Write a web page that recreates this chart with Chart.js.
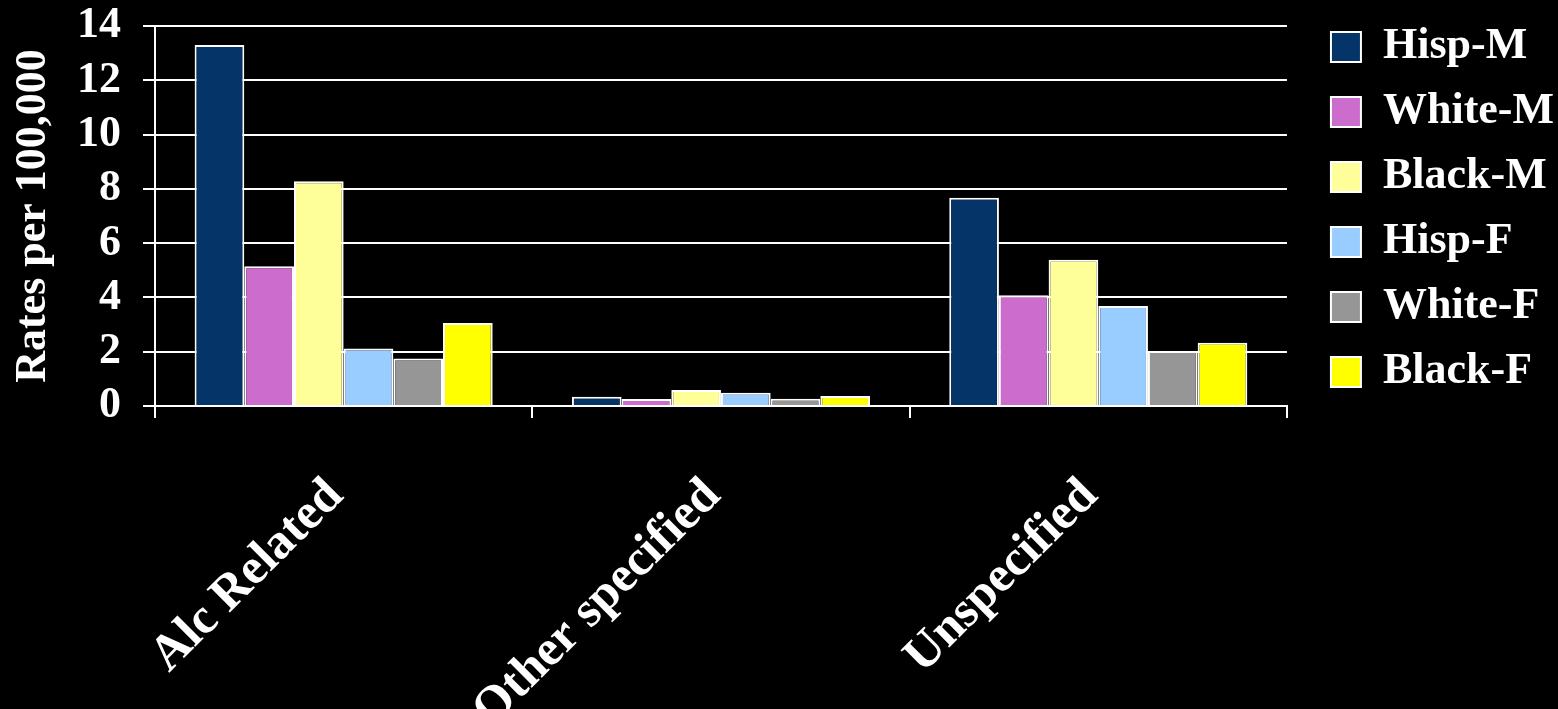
<!DOCTYPE html>
<html>
<head>
<meta charset="utf-8">
<script src="https://cdn.jsdelivr.net/npm/chart.js@4/dist/chart.umd.min.js"></script>
<style>
  html, body { margin: 0; padding: 0; background: #000; }
  #wrap { width: 1558px; height: 709px; }
</style>
</head>
<body>
<div id="wrap"><canvas id="rateChart"></canvas></div>
<script>
const categories = ['Alc Related', 'Other specified', 'Unspecified'];

const hispM  = [13.3, 0.34, 7.67];
const whiteM = [5.15, 0.26, 4.08];
const blackM = [8.28, 0.59, 5.39];
const hispF  = [2.12, 0.49, 3.68];
const whiteF = [1.75, 0.27, 2.03];
const blackF = [3.06, 0.37, 2.33];

const yTicks = [0, 2, 4, 6, 8, 10, 12, 14];

const serif = "'Liberation Serif', 'Times New Roman', serif";

function series(label, data, color) {
    return {
        label: label,
        data: data,
        backgroundColor: color,
        borderColor: '#ffffff',
        borderWidth: 2,
        categoryPercentage: 0.79,
        barPercentage: 1.0
    };
}

const ctx = document.getElementById('rateChart').getContext('2d');
const rateChart = new Chart(ctx, {
    type: 'bar',
    data: {
        labels: categories,
        datasets: [
            series('Hisp-M', hispM, '#043468'),
            series('White-M', whiteM, '#cc6ccc'),
            series('Black-M', blackM, '#ffff99'),
            series('Hisp-F', hispF, '#99ccff'),
            series('White-F', whiteF, '#969696'),
            series('Black-F', blackF, '#ffff00')
        ]
    },
    options: {
        responsive: true,
        maintainAspectRatio: false,
        animation: false,
        layout: {
            padding: { top: 4, right: -6, left: 0, bottom: 0 }
        },
        scales: {
            x: {
                grid: {
                    display: true,
                    offset: true,
                    drawOnChartArea: false,
                    color: '#ffffff',
                    lineWidth: 2,
                    tickLength: 12
                },
                border: { color: '#ffffff', width: 2 },
                ticks: {
                    color: '#ffffff',
                    maxRotation: 45,
                    minRotation: 45,
                    padding: 49,
                    labelOffset: -8,
                    font: { family: serif, size: 50, weight: 'bold' }
                },
                afterFit: (scale) => { scale.height = 303; }
            },
            y: {
                min: 0,
                max: 14,
                afterBuildTicks: (scale) => {
                    scale.ticks = yTicks.map(v => ({ value: v }));
                },
                grid: {
                    color: '#ffffff',
                    lineWidth: 2,
                    tickLength: 12
                },
                border: { color: '#ffffff', width: 2 },
                ticks: {
                    color: '#ffffff',
                    autoSkip: false,
                    padding: 22,
                    font: { family: serif, size: 44, weight: 'bold' }
                },
                title: {
                    display: true,
                    text: 'Rates per 100,000',
                    color: '#ffffff',
                    padding: { top: 7, bottom: 0 },
                    font: { family: serif, size: 44, weight: 'bold' }
                },
                afterFit: (scale) => {
                    scale.width = 155;
                    scale.paddingTop = 26;
                    scale.paddingBottom = 0;
                }
            },
            // empty right-hand box: keeps a gap between plot and legend
            gap: {
                type: 'linear',
                position: 'right',
                display: true,
                grid: { display: false },
                border: { display: false },
                ticks: { display: false },
                afterFit: (scale) => {
                    scale.width = 23;
                    scale.paddingTop = 0;
                    scale.paddingBottom = 0;
                }
            }
        },
        plugins: {
            legend: {
                display: true,
                position: 'right',
                align: 'start',
                labels: {
                    color: '#ffffff',
                    boxWidth: 30,
                    boxHeight: 30,
                    padding: 21,
                    font: { family: serif, size: 44, weight: 'bold' }
                }
            },
            tooltip: { enabled: false }
        }
    }
});
</script>
</body>
</html>
